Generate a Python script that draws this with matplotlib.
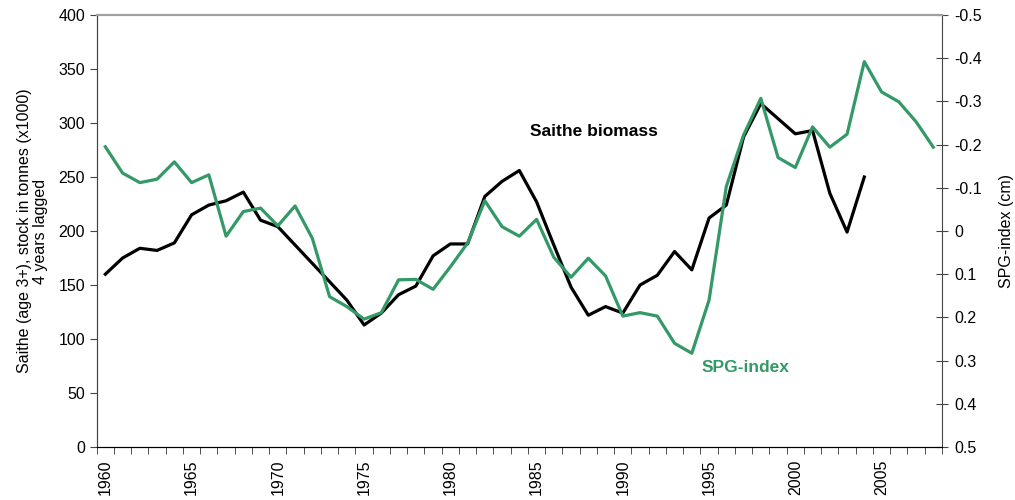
import numpy as np
import matplotlib.pyplot as plt
from matplotlib.ticker import FixedLocator, FuncFormatter

plt.rcParams['font.family'] = ['Liberation Sans', 'DejaVu Sans']

# Saithe biomass (x1000 t, 4 years lagged), 1960-2004
anos_biomasa = list(range(1960, 2005))
biomasa = [160, 175, 184, 182, 189, 215, 224, 228, 236, 210,
           204, 187, 170, 153, 136, 113, 124, 141, 149, 177,
           188, 188, 232, 246, 256, 227, 187, 148, 122, 130,
           124, 150, 159, 181, 164, 212, 224, 287, 318, 304,
           290, 293, 235, 199, 250]

# SPG-index (cm), 1960-2008
anos_spg = list(range(1960, 2009))
spg = [-0.195, -0.134, -0.112, -0.120, -0.160, -0.112, -0.130, 0.012, -0.045, -0.053,
       -0.012, -0.058, 0.017, 0.152, 0.175, 0.204, 0.189, 0.113, 0.112, 0.135,
       0.083, 0.028, -0.070, -0.010, 0.012, -0.027, 0.061, 0.107, 0.063, 0.104,
       0.197, 0.189, 0.197, 0.260, 0.283, 0.160, -0.103, -0.222, -0.307, -0.170,
       -0.147, -0.241, -0.194, -0.224, -0.392, -0.322, -0.299, -0.253, -0.194]

verde = '#339966'

fig = plt.figure(figsize=(10.15, 5.0), dpi=100)
ax1 = fig.add_axes([0.0953, 0.106, 0.8327, 0.864])
ax2 = ax1.twinx()

ax1.plot(anos_biomasa, biomasa, color='black', lw=2.3, zorder=3)
ax2.plot(anos_spg, spg, color=verde, lw=2.3, zorder=2)

# eje x por categorias: marcas entre anos, etiquetas cada 5
ax1.set_xlim(1959.5, 2008.5)
ax1.xaxis.set_major_locator(FixedLocator(range(1960, 2009, 5)))
ax1.xaxis.set_minor_locator(FixedLocator(np.arange(1959.5, 2009, 1)))
ax1.tick_params(axis='x', which='major', length=0, pad=9, labelrotation=90, labelsize=11.5)
ax1.tick_params(axis='x', which='minor', length=5, direction='out', color='#333333')

ax1.set_ylim(0, 400)
ax1.set_yticks(range(0, 401, 50))
ax1.tick_params(axis='y', length=5, direction='out', labelsize=11.5, color='#444444')
ax1.set_ylabel('Saithe (age 3+), stock in tonnes (x1000)\n4 years lagged', fontsize=11.5,
               labelpad=7, linespacing=1.15)

ax2.set_ylim(0.5, -0.5)
ax2.set_yticks(np.round(np.arange(-0.5, 0.51, 0.1), 1))
ax2.yaxis.set_major_formatter(FuncFormatter(lambda v, p: '0' if abs(v) < 1e-9 else f'{v:g}'))
ax2.tick_params(axis='y', length=8, direction='inout', labelsize=11.5, color='#444444', pad=5)
ax2.set_ylabel('SPG-index (cm)', fontsize=11.5, labelpad=12)

for ax in (ax1, ax2):
    ax.spines['top'].set_color('#a0a0a0')
    ax.spines['top'].set_linewidth(1.5)
    ax.spines['left'].set_color('#444444')
    ax.spines['right'].set_color('#444444')
    ax.spines['bottom'].set_color('black')
ax1.spines['right'].set_visible(False)

ax1.text(1988.3, 292, 'Saithe biomass', fontsize=12.5, fontweight='bold', color='black',
         ha='center', va='center')
ax1.text(1997.1, 74, 'SPG-index', fontsize=12.5, fontweight='bold', color=verde,
         ha='center', va='center')

fig.savefig('out.png', dpi=100)
